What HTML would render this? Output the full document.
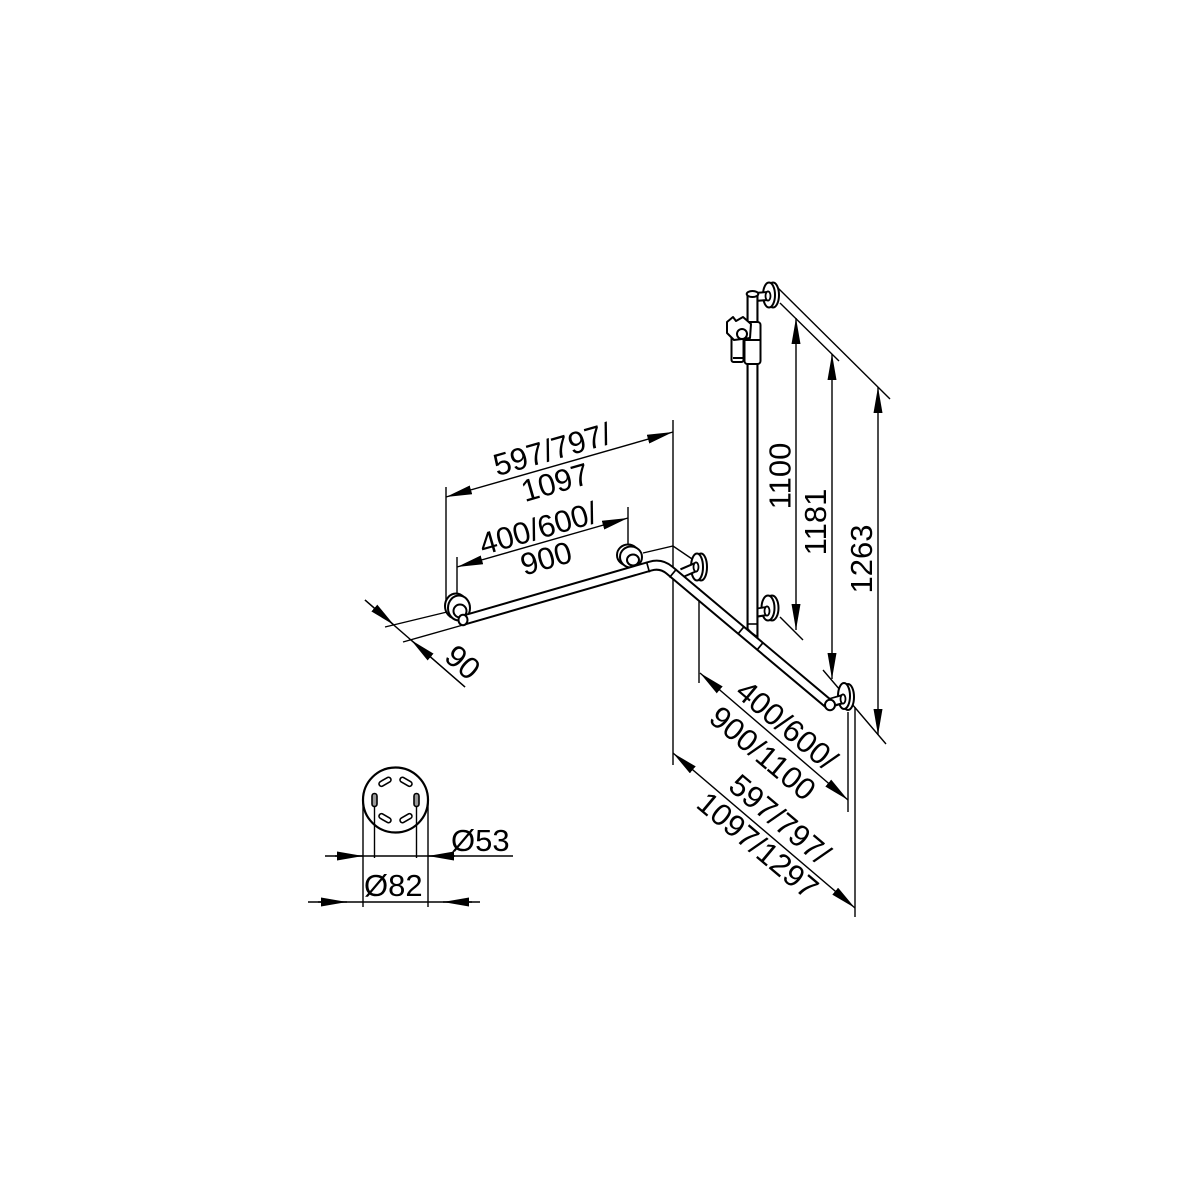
<!DOCTYPE html>
<html>
<head>
<meta charset="utf-8">
<style>
  html,body{margin:0;padding:0;background:#fff;}
  svg{display:block;}
  text{font-family:"Liberation Sans",Arial,sans-serif;font-size:31px;fill:#000;}
</style>
</head>
<body>
<svg width="1200" height="1200" viewBox="0 0 1200 1200" xmlns="http://www.w3.org/2000/svg">
  <defs>
    <marker id="ar" viewBox="0 0 26 9" refX="26" refY="4.5" markerWidth="26" markerHeight="9" orient="auto-start-reverse" markerUnits="userSpaceOnUse">
      <path d="M0,0 L26,4.5 L0,9 Z" fill="#000"/>
    </marker>
  </defs>
  <rect width="1200" height="1200" fill="#fff"/>

  <!-- thin extension / wall lines -->
  <g stroke="#000" stroke-width="1.4" fill="none">
    <path d="M446,487 L446,607"/>
    <path d="M457,557 L457,600"/>
    <path d="M628,507 L628,549"/>
    <path d="M673,420 L673,765"/>
    <path d="M643,553 L673,546 L698,563"/>
    <path d="M385,627 L447,612"/>
    <path d="M403,642 L463,625"/>
    <path d="M699,588 L699,683"/>
    <path d="M848,712 L848,812"/>
    <path d="M855,707 L855,917"/>
    <path d="M777,287 L890,399"/>
    <path d="M780,303 L839,361"/>
    <path d="M780,617 L803,640"/>
    <path d="M823,670 L886,744"/>
    <path d="M365,600 L465,687"/>
  </g>

  <!-- dimension lines with arrows -->
  <g stroke="#000" stroke-width="1.4" fill="none">
    <path d="M446,497 L673,432" marker-start="url(#ar)" marker-end="url(#ar)"/>
    <path d="M457,567 L628,518" marker-start="url(#ar)" marker-end="url(#ar)"/>
    <path d="M796,318 L796,630" marker-start="url(#ar)" marker-end="url(#ar)"/>
    <path d="M832,354 L832,679" marker-start="url(#ar)" marker-end="url(#ar)"/>
    <path d="M878,387 L878,735" marker-start="url(#ar)" marker-end="url(#ar)"/>
    <path d="M700,673 L848,800" marker-start="url(#ar)" marker-end="url(#ar)"/>
    <path d="M673,753 L855,908" marker-start="url(#ar)" marker-end="url(#ar)"/>
    <path d="M365,600 L394,625" marker-end="url(#ar)"/>
    <path d="M465,687 L411,640" marker-end="url(#ar)"/>
  </g>

  <!-- flanges (behind) -->
  <g stroke="#000" stroke-width="2" fill="#fff">
    <ellipse cx="456" cy="606" rx="11" ry="12.5"/>
    <ellipse cx="459" cy="608" rx="11" ry="12.5"/>
    <ellipse cx="460" cy="611" rx="6.5" ry="6.5"/>
    <ellipse cx="628" cy="555" rx="11" ry="10.5"/>
    <ellipse cx="631" cy="557" rx="11" ry="10.5"/>
    <ellipse cx="633" cy="560" rx="6" ry="5.5"/>
    <ellipse cx="701" cy="567" rx="6" ry="13.5"/>
    <ellipse cx="697" cy="567" rx="6" ry="13.5"/>
    <ellipse cx="772" cy="608" rx="6.5" ry="12.5"/>
    <ellipse cx="768" cy="608" rx="6.5" ry="12.5"/>
    <ellipse cx="848" cy="697" rx="6" ry="13"/>
    <ellipse cx="844" cy="696" rx="6" ry="13"/>
    <ellipse cx="773" cy="295" rx="6" ry="12.5"/>
    <ellipse cx="769" cy="295" rx="6" ry="12.5"/>
  </g>

  <!-- arms -->
  <g fill="none" stroke-linecap="butt">
    <g stroke="#000" stroke-width="10">
      <path d="M682,573 L696,567"/>
      <path d="M755,613 L767,611"/>
      <path d="M830,703 L843,699"/>
      <path d="M755,297 L768,296"/>
    </g>
    <g stroke="#fff" stroke-width="6">
      <path d="M680,574 L696,567"/>
      <path d="M753,613 L767,611"/>
      <path d="M828,703 L843,699"/>
      <path d="M753,297 L768,296"/>
    </g>
  </g>
  <g stroke="#000" stroke-width="1.8" fill="#fff">
    <ellipse cx="696" cy="567" rx="2.5" ry="4.6"/>
    <ellipse cx="767" cy="611" rx="2.5" ry="4.6"/>
    <ellipse cx="843" cy="699" rx="2.5" ry="4.6"/>
    <ellipse cx="768" cy="296" rx="2.5" ry="4.6"/>
  </g>

  <!-- vertical bar -->
  <path d="M752.5,294 L752.5,641" stroke="#000" stroke-width="12" fill="none"/>
  <path d="M752.5,294 L752.5,645" stroke="#fff" stroke-width="7.8" fill="none"/>
  <ellipse cx="752.5" cy="294" rx="5.8" ry="3" fill="#fff" stroke="#000" stroke-width="2"/>
  <path d="M747,624 L758,624" stroke="#000" stroke-width="1.6"/>

  <!-- slider / shower holder -->
  <g stroke="#000" stroke-width="2" fill="#fff" stroke-linejoin="round">
    <rect x="744.5" y="322" width="16" height="42" rx="3"/>
    <rect x="731.5" y="332" width="12" height="30" rx="2"/>
    <path d="M727,322 L733,317 L736,321 L743,317 L751,324 L750,338 L734,340 L727,333 Z"/>
    <ellipse cx="742" cy="334" rx="5" ry="5"/>
    <path d="M744.5,340 L760.5,340" fill="none"/>
    <path d="M733,358 L743,358" fill="none"/>
  </g>

  <!-- main bar -->
  <path d="M464,620 L650.4,566.1 Q661,563 669.4,570.1 L830,705" stroke="#000" stroke-width="11" fill="none" stroke-linejoin="round"/>
  <path d="M464,620 L650.4,566.1 Q661,563 669.4,570.1 L830,705" stroke="#fff" stroke-width="7" fill="none" stroke-linejoin="round"/>
  <g stroke="#000" stroke-width="1.7" fill="none">
    <path d="M646.5,561.7 L649.5,572.3"/>
    <path d="M676.5,569.1 L669.5,577.5"/>
    <path d="M744.3,626.3 L737.7,634.3"/>
    <path d="M763.3,642.3 L756.7,650.3"/>
    <path d="M747,628 Q752,634 758,637"/>
  </g>
  <g stroke="#000" stroke-width="2" fill="#fff">
    <ellipse cx="463" cy="620" rx="4.5" ry="5.2"/>
    <ellipse cx="830" cy="705" rx="5" ry="5.2"/>
  </g>

  <!-- labels -->
  <text transform="translate(552,449) rotate(-16)" text-anchor="middle" y="11">597/797/</text>
  <text transform="translate(555,482) rotate(-16)" text-anchor="middle" y="11">1097</text>
  <text transform="translate(538,528) rotate(-16)" text-anchor="middle" y="11">400/600/</text>
  <text transform="translate(546,558) rotate(-16)" text-anchor="middle" y="11">900</text>
  <text transform="translate(463,662) rotate(41)" text-anchor="middle" y="11">90</text>
  <text transform="translate(779.5,476) rotate(-90)" text-anchor="middle" y="11">1100</text>
  <text transform="translate(815,522) rotate(-90)" text-anchor="middle" y="11">1181</text>
  <text transform="translate(861,559) rotate(-90)" text-anchor="middle" y="11">1263</text>
  <text transform="translate(787,725) rotate(40)" text-anchor="middle" y="11">400/600/</text>
  <text transform="translate(763,753) rotate(40)" text-anchor="middle" y="11">900/1100</text>
  <text transform="translate(780,819) rotate(40)" text-anchor="middle" y="11">597/797/</text>
  <text transform="translate(758,845) rotate(40)" text-anchor="middle" y="11">1097/1297</text>

  <!-- flange detail (bottom left) -->
  <circle cx="395.5" cy="800" r="32.5" fill="#fff" stroke="#000" stroke-width="2.2"/>
  <g stroke="#000" stroke-width="1.6">
    <rect x="-2.5" y="-6.5" width="5" height="13" rx="2.5" fill="#999" transform="translate(416.5,800) rotate(0)"/>
    <rect x="-2.5" y="-6.5" width="5" height="13" rx="2.5" fill="#999" transform="translate(374.5,800) rotate(180)"/>
    <rect x="-2.5" y="-6.5" width="5" height="13" rx="2.5" fill="#fff" transform="translate(406,818.2) rotate(60)"/>
    <rect x="-2.5" y="-6.5" width="5" height="13" rx="2.5" fill="#fff" transform="translate(385,818.2) rotate(120)"/>
    <rect x="-2.5" y="-6.5" width="5" height="13" rx="2.5" fill="#fff" transform="translate(385,781.8) rotate(240)"/>
    <rect x="-2.5" y="-6.5" width="5" height="13" rx="2.5" fill="#fff" transform="translate(406,781.8) rotate(300)"/>
  </g>
  <g stroke="#000" stroke-width="1.4" fill="none">
    <path d="M363,800 L363,907"/>
    <path d="M428,800 L428,907"/>
    <path d="M374.5,806 L374.5,858"/>
    <path d="M416.5,806 L416.5,858"/>
    <path d="M325,856 L513,856"/>
    <path d="M308,902 L480,902"/>
    <path d="M335,856 L363,856" marker-end="url(#ar)"/>
    <path d="M455,856 L428,856" marker-end="url(#ar)"/>
    <path d="M318,902 L347,902" marker-end="url(#ar)"/>
    <path d="M472,902 L443,902" marker-end="url(#ar)"/>
  </g>
  <text x="451" y="851">Ø53</text>
  <text x="364" y="896">Ø82</text>
</svg>
</body>
</html>
